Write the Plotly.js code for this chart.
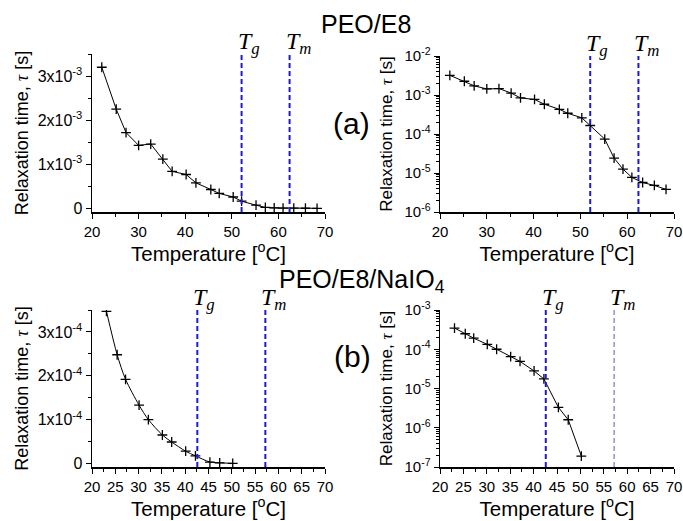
<!DOCTYPE html>
<html>
<head>
<meta charset="utf-8">
<script src="https://cdn.plot.ly/plotly-3.0.1.min.js"></script>
<style>html,body{margin:0;padding:0;background:#fff}</style>
</head>
<body>
<div id="chart" style="width:683px;height:521px"></div>
<script>
// ---- data ----
// PEO/E8 (panel a, same points in linear and log view)
const tempA = [22.1, 25.2, 27.3, 30.0, 32.6, 35.2, 37.2, 40.2, 42.3, 45.5, 47.3, 50.3, 52.1, 55.2, 57.2, 59.1, 61.0, 63.3, 65.8, 68.3];
const tauA  = [3.2e-3, 2.25e-3, 1.72e-3, 1.43e-3, 1.46e-3, 1.12e-3, 0.84e-3, 0.77e-3, 0.58e-3, 0.43e-3, 0.34e-3, 0.26e-3, 1.65e-4, 7.4e-5, 2.4e-5, 1.26e-5, 7.7e-6, 5.7e-6, 4.8e-6, 3.8e-6];
// PEO/E8/NaIO4 (panel b)
const tempB = [23.1, 25.4, 27.2, 30.1, 32.1, 35.1, 37.1, 40.1, 42.2, 45.3, 47.4, 50.2];
const tauB  = [3.47e-4, 2.48e-4, 1.92e-4, 1.33e-4, 1.0e-4, 6.5e-5, 4.9e-5, 2.8e-5, 1.75e-5, 3.3e-6, 1.6e-6, 1.9e-7];
// transition temperatures [a, b]
const Tg = [52.1, 42.6];
const Tm = [62.4, 57.2];
// tick labels
const linTickValsA = [0, 1e-3, 2e-3, 3e-3];
const linTickTextA = ["0", "1x10<sup>-3</sup>", "2x10<sup>-3</sup>", "3x10<sup>-3</sup>"];
const linTickValsB = [0, 1e-4, 2e-4, 3e-4];
const linTickTextB = ["0", "1x10<sup>-4</sup>", "2x10<sup>-4</sup>", "3x10<sup>-4</sup>"];
const logTickValsA = [1e-6, 1e-5, 1e-4, 1e-3, 1e-2];
const logTickTextA = ["10<sup>-6</sup>", "10<sup>-5</sup>", "10<sup>-4</sup>", "10<sup>-3</sup>", "10<sup>-2</sup>"];
const logTickValsB = [1e-7, 1e-6, 1e-5, 1e-4, 1e-3];
const logTickTextB = ["10<sup>-7</sup>", "10<sup>-6</sup>", "10<sup>-5</sup>", "10<sup>-4</sup>", "10<sup>-3</sup>"];
const titles = ["PEO/E8", "PEO/E8/NaIO<sub>4</sub>"];
const panelLabels = ["(a)", "(b)"];

// ---- layout helpers ----
const W = 683, H = 521;
const FONT = "Liberation Sans, Arial, sans-serif";
const SERIF = "Liberation Serif, Times New Roman, serif";
const px = v => v / W;
const py = v => 1 - v / H;

function trace(x, y, xa, ya, shape) {
  return {
    x: x, y: y, xaxis: xa, yaxis: ya, type: "scatter", mode: "lines+markers",
    line: {color: "#000", width: 1, shape: shape || "linear", smoothing: 0.8},
    marker: {symbol: "cross-thin-open", size: 7, color: "#000", line: {color: "#000", width: 1.3}},
    showlegend: false, hoverinfo: "x+y"
  };
}

const data = [
  trace(tempA, tauA, "x", "y"),
  trace(tempA, tauA, "x2", "y2"),
  trace(tempB, tauB, "x3", "y3", "spline"),
  trace(tempB, tauB, "x4", "y4")
];

const yTitle = 'Relaxation time, <span style="font-family:Liberation Serif;font-style:italic">τ</span> [s]';
const xTitle = "Temperature [<sup>o</sup>C]";

function xaxis(domain, anchor, dtick, minorDtick, standoff) {
  return {
    domain: domain, anchor: anchor, range: [20, 70], dtick: dtick, tick0: 20,
    showgrid: false, zeroline: false, showline: true, linecolor: "#000", linewidth: 1.5,
    ticks: "outside", ticklen: 5, tickwidth: 1, tickcolor: "#000",
    minor: {dtick: minorDtick, ticks: "outside", ticklen: 3, tickcolor: "#000", showgrid: false},
    tickfont: {family: FONT, size: 15, color: "#000"},
    title: {text: xTitle, font: {family: FONT, size: 20.5, color: "#000"}, standoff: standoff},
    automargin: false, fixedrange: true
  };
}
function yLin(domain, anchor, range, tv, tt, minorDtick) {
  return {
    domain: domain, anchor: anchor, range: range, tickvals: tv, ticktext: tt,
    showgrid: false, zeroline: false, showline: true, linecolor: "#000", linewidth: 1.5,
    ticks: "outside", ticklen: 5, tickwidth: 1, tickcolor: "#000",
    minor: {dtick: minorDtick, ticks: "outside", ticklen: 3, tickcolor: "#000", showgrid: false},
    tickfont: {family: FONT, size: 16, color: "#000"},
    title: {text: yTitle, font: {family: FONT, size: 18, color: "#000"}, standoff: 4},
    automargin: false, fixedrange: true
  };
}
function yLog(domain, anchor, range, tv, tt) {
  return {
    domain: domain, anchor: anchor, type: "log", range: range, tickvals: tv, ticktext: tt,
    showgrid: false, zeroline: false, showline: true, linecolor: "#000", linewidth: 1.5,
    ticks: "outside", ticklen: 5, tickwidth: 1, tickcolor: "#000",
    minor: {dtick: "D1", ticks: "outside", ticklen: 3, tickcolor: "#000", showgrid: false},
    tickfont: {family: FONT, size: 15, color: "#000"},
    title: {text: yTitle, font: {family: FONT, size: 17, color: "#000"}, standoff: 7},
    automargin: false, fixedrange: true
  };
}

const xLeft = [px(92), px(325)];
const xRight = [px(440), px(674)];
const yTop = [py(212), py(54)];
const yTopR = [py(212), py(56)];
const yBot = [py(467), py(310)];

const layout = {
  width: W, height: H,
  margin: {l: 0, r: 0, t: 0, b: 0},
  paper_bgcolor: "#fff", plot_bgcolor: "#fff",
  font: {family: FONT, color: "#000"},
  showlegend: false,
  xaxis:  xaxis(xLeft, "y", 10, 5, 4),
  yaxis:  yLin(yTop, "x", [-0.08e-3, 3.5e-3], linTickValsA, linTickTextA, 0.5e-3),
  xaxis2: xaxis(xRight, "y2", 10, 5, 4),
  yaxis2: yLog(yTopR, "x2", [-6, -2], logTickValsA, logTickTextA),
  xaxis3: xaxis(xLeft, "y3", 5, 2.5, 8),
  yaxis3: yLin(yBot, "x3", [-0.08e-4, 3.5e-4], linTickValsB, linTickTextB, 0.5e-4),
  xaxis4: xaxis(xRight, "y4", 5, 2.5, 8),
  yaxis4: yLog(yBot, "x4", [-7, -3], logTickValsB, logTickTextB),
  shapes: [],
  annotations: []
};

// transition lines and labels
const panels = [
  {xa: "x", ya: "y", k: 0}, {xa: "x2", ya: "y2", k: 0},
  {xa: "x3", ya: "y3", k: 1}, {xa: "x4", ya: "y4", k: 1}
];
panels.forEach((p, i) => {
  const thinTm = (i === 3);
  [[Tg[p.k], "g", false], [Tm[p.k], "m", thinTm]].forEach(([T, sub, thin]) => {
    layout.shapes.push({
      type: "line", xref: p.xa, yref: p.ya + " domain", x0: T, x1: T, y0: 0, y1: 1,
      line: {color: thin ? "#5b5bc0" : "#1c1cc8", width: thin ? 1 : 2, dash: "5px,3px"}
    });
    layout.annotations.push({
      xref: p.xa, yref: p.ya + " domain", x: T, y: 1, xanchor: "left", yanchor: "bottom",
      xshift: -6, yshift: -6, showarrow: false,
      text: "<i>T</i><sub><i>" + sub + "</i></sub>",
      font: {family: SERIF, size: 24, color: "#000"}
    });
  });
});

// panel titles and labels
layout.annotations.push(
  {xref: "paper", yref: "paper", x: px(366), y: py(24), xanchor: "center", yanchor: "middle",
   showarrow: false, text: titles[0], font: {family: FONT, size: 25, color: "#000"}},
  {xref: "paper", yref: "paper", x: px(351), y: py(124), xanchor: "center", yanchor: "middle",
   showarrow: false, text: panelLabels[0], font: {family: FONT, size: 30, color: "#000"}},
  {xref: "paper", yref: "paper", x: px(362), y: py(281), xanchor: "center", yanchor: "middle",
   showarrow: false, text: titles[1], font: {family: FONT, size: 25, color: "#000"}},
  {xref: "paper", yref: "paper", x: px(352), y: py(356), xanchor: "center", yanchor: "middle",
   showarrow: false, text: panelLabels[1], font: {family: FONT, size: 30, color: "#000"}}
);

Plotly.newPlot("chart", data, layout, {staticPlot: true, displayModeBar: false});
</script>
</body>
</html>
